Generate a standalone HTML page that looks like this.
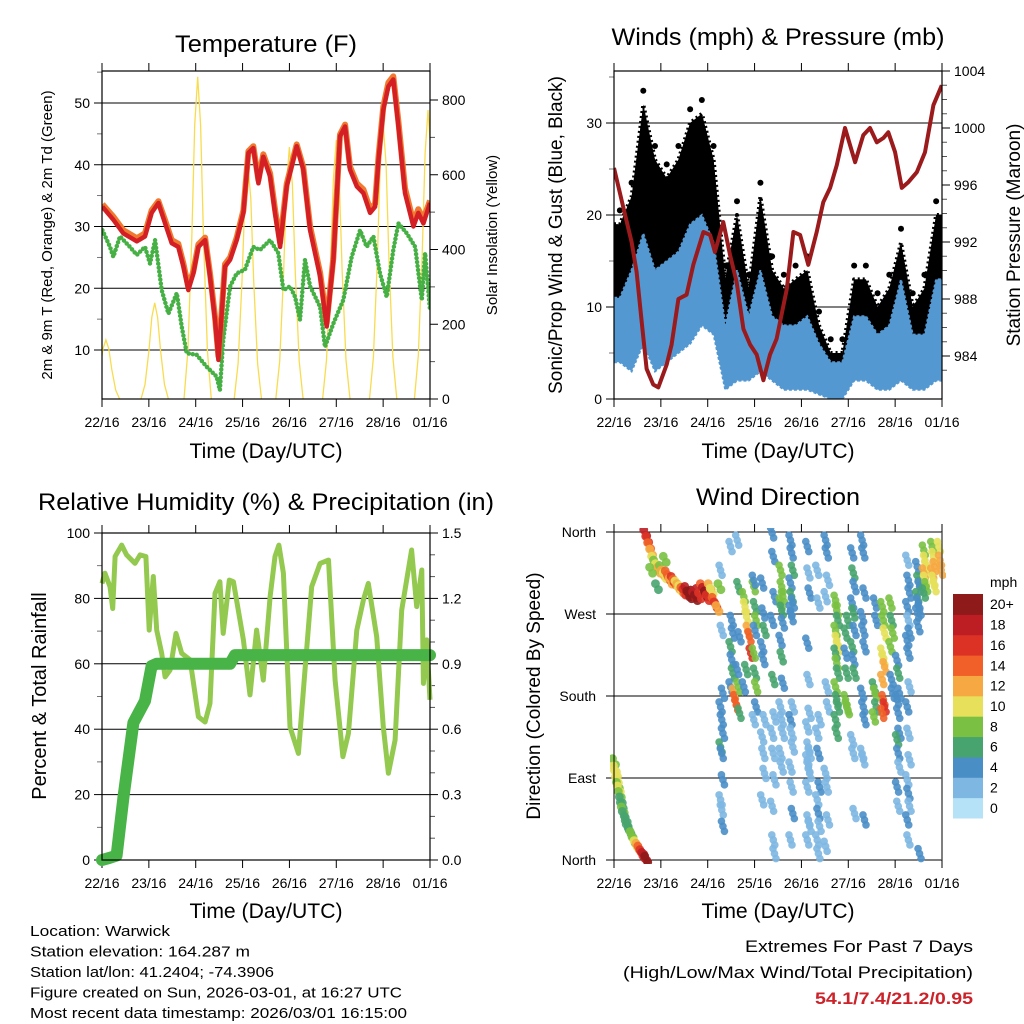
<!DOCTYPE html>
<html><head><meta charset="utf-8">
<style>
html,body{margin:0;padding:0;background:#fff;}
svg{display:block;font-family:"Liberation Sans",sans-serif;}
</style></head>
<body>
<svg id="fig" width="1024" height="1024" viewBox="0 0 1024 1024" xmlns="http://www.w3.org/2000/svg">
<rect width="1024" height="1024" fill="#fff"/>
</svg>
<script>
// ---------- DATA ----------
const dayTickLabels = ["22/16","23/16","24/16","25/16","26/16","27/16","28/16","01/16"];
const tempHours = [0.2,5.8,10.9,17.8,22.0,25.4,28.9,32.3,35.7,39.1,41.7,44.2,46.8,49.4,52.8,55.3,57.9,59.6,61.3,63.0,65.6,69.0,72.4,75.0,77.5,80.1,82.6,86.1,88.6,91.2,94.6,99.7,103.1,106.6,111.7,115.1,118.5,121.9,124.5,127.0,130.5,133.9,137.3,139.9,141.6,144.1,146.7,149.2,151.8,155.2,159.5,162.0,164.6,168.0];
const temp2m = [33.2,31.1,28.9,27.6,28.4,32.2,33.8,30.5,27.3,26.7,23.5,19.7,22.4,26.7,27.8,21.9,14.9,8.4,15.9,23.5,24.6,27.8,32.2,41.9,42.7,37.0,41.3,38.1,32.2,26.7,36.5,43.0,39.2,29.4,21.9,13.8,24.6,44.6,46.2,39.2,36.5,35.4,32.2,33.2,40.8,48.9,52.7,53.8,46.2,35.4,30.0,32.2,30.5,33.8];
const temp9m = [33.6,31.6,29.4,28.1,28.9,32.6,34.1,31.0,27.8,27.2,24.0,20.2,22.8,27.1,28.2,22.4,15.4,9.0,16.3,23.9,25.0,28.2,32.6,42.2,43.0,37.5,41.7,38.6,32.8,27.4,36.9,43.3,39.6,30.0,22.5,14.4,25.0,44.9,46.5,39.7,37.0,36.0,32.8,33.7,41.3,49.4,53.3,54.3,47.0,36.2,30.7,32.8,31.2,34.2];
const dewHours = [0.2,4.1,5.8,9.2,14.3,17.8,22.0,24.6,27.2,30.6,34.0,38.3,40.8,43.4,48.5,53.6,58.7,60.4,62.1,65.6,69.0,73.2,77.5,80.9,86.1,90.3,92.9,96.3,98.9,101.4,104.0,106.6,111.7,114.2,118.5,123.6,127.9,132.2,135.6,139.0,142.4,145.8,149.2,151.8,156.1,160.4,163.8,165.5,168.0];
const dewPoint = [29.4,26.7,25.1,28.4,26.7,25.4,26.7,24.0,27.8,19.7,15.9,19.2,13.8,9.5,9.2,7.3,5.7,3.5,11.6,20.3,22.4,23.0,26.7,26.2,27.8,25.7,19.7,20.3,18.6,14.9,24.6,20.3,17.0,10.5,14.3,18.1,25.1,29.4,26.7,28.4,22.4,18.6,26.2,30.5,28.9,26.7,18.1,25.7,16.5];
const solarPeakHours = [2,27,49,74.7,96,120,144,167];
const solarPeaks = [158,257,862,631,674,693,738,773];
const windBinHours = [0,6,12,18,24,30,36,42,48,54,60,66,72,78,84,90,96,102,108,114,120,126,132,138,144,150,156,162];
const gustLo = [8,8,12,9,8,12,12,14,12,5,6,5,6,4,3,3,3,2,1,1,4,4,3,3,6,3,3,6];
const gustHi = [19,22,32,26,24,26,30,31,26,13,20,12,22,14,12,13,14,8,5,5,13,13,10,12,17,10,12,20];
const windLo = [4,3,6,3,4,5,6,8,7,1,2,2,3,2,1,1,1,0.5,0,0,2,2,1,1,2,1,1,2];
const windHi = [11,14,18,14,15,16,19,20,17,8,14,9,14,9,8,8,9,6,4,4,9,9,7,8,13,7,7,13];
const presHours = [0,4.8,9.0,11.6,14.2,16.7,20.1,22.7,27.0,29.5,33.0,37.2,40.6,45.8,49.2,51.7,56.0,59.4,62.8,66.3,69.7,73.1,76.5,79.9,83.3,88.5,91.9,95.3,99.5,103.8,107.2,110.7,114.1,118.3,123.5,127.7,131.1,134.6,138.0,140.5,144.0,147.4,150.8,155.1,159.3,163.6,167.9];
const pressure = [997.2,994.4,992.0,989.9,986.4,983.1,982.0,981.8,983.4,984.8,988.0,988.3,990.4,992.7,992.5,991.3,993.4,991.1,989.2,985.9,984.8,984.1,982.3,984.1,985.2,988.7,992.7,992.5,990.4,992.7,994.8,995.8,997.4,1000.0,997.6,999.5,1000.0,999.0,999.3,999.7,998.3,995.8,996.2,996.9,998.3,1001.6,1003.0];
const rhHours = [0,1.5,4.1,5.5,6.7,10.1,12.6,16.9,19.5,22.5,24.2,26.3,28.0,30.6,32.3,34.9,37.9,40.8,45.1,49.4,52.8,55.3,57.9,60.4,62.1,65.2,67.3,72.4,75.8,79.2,82.6,86.1,88.6,90.6,92.9,96.3,100.6,104.0,107.4,111.7,116.0,119.4,123.4,126.2,130.5,133.9,136.4,140.7,144.1,146.7,150.1,153.5,158.6,161.2,163.8,164.6,166.3,168];
const rh = [84.6,87.7,83.6,76.9,92.8,96.3,93.3,90.7,93.3,92.8,70.3,86.7,70.3,63.2,56,58.1,69.3,63.2,61.2,43.8,42.2,47.9,81.5,85.1,69.3,85.6,85.1,67.3,50.5,70.3,55,80.5,92.8,96.3,87.7,40.7,32.6,58.1,83.6,90.7,91.7,55,31.6,38.7,70.3,79.5,84.6,68.3,40.7,26.5,36.7,76.4,94.8,77.5,88.7,54,67.3,49];
const precipHours = [0,4,7.5,11,16.1,22,25.4,28,65.6,68.1,168];
const precip = [0,0.01,0.02,0.29,0.63,0.73,0.89,0.9,0.9,0.94,0.94];
const dirHours = [0,0.5,1,1.5,2,2.5,3,3.5,4,4.5,5,6,6.5,7,8,9,10,11,12,13,14,15,16,16.5,
16,17,18,19,20,21,22,23,24,25,26,27,28,29,30,31,32,33,34,35,36,37,38,39,40,41,42,43,44,45,46,47,48,49,50,51,52,53,54,19,22,26];
const dirDeg = [108,100,95,88,82,78,72,66,60,55,50,45,40,36,32,28,22,18,15,12,8,5,3,1,
359,352,345,338,330,326,322,318,320,315,312,314,310,306,308,305,303,300,298,296,294,297,292,290,293,291,288,295,290,300,296,292,288,300,295,285,280,276,300,318,300,330];
const dirSpd = [8,10,9,10,8,9,7,6,6,7,6,5,6,5,6,7,8,10,12,14,16,18,18,20,
18,16,14,12,10,8,9,11,7,12,10,13,14,12,15,13,10,12,9,14,16,18,19,20,21,18,20,17,16,14,18,19,16,12,10,14,16,12,8,8,6,8];
const colHours = [55.2,60.3,62,63.7,67.1,68.5,70,72.2,76.5,81.6,85.9,91.0,99.6,104.7,109.0,114.1,119.2,122.6,127.7,133.7,138.0,142.2,145.6,150.8,155.9,159.3,163.6,167];
const colDeg = [
[318,252,183,168,154,139,124,117,88,66,55,37],
[344,263,249,234,220,205,190],
[183,176,170],
[351,300,245,209,190,161],
[289,278,209,190],
[267,252],
[245,227],
[300,278,263,227,205,190,307,252,168,154],
[304,271,252,234,220,154,135,117,95,66],
[359,333,289,263,198,157,139,117,88,59,22,7],
[318,300,289,282,274,260,241,223,194,168,154,139,117,102],
[351,337,318,304,289,282,274,267,168,154,139,124,102,80,51,22],
[344,315,293,238,198,161,146,124,117,110,102,95,80,44,37,22],
[318,282,154,139,117,80,66,51,37,22,7],
[351,337,307,289,190,168,95,80,44,15],
[285,274,263,252,241,234,227,216,205,190,176,168,154,139],
[176,168,165,227,205,263,249],
[337,315,300,282,271,252,234,220,205,132,117,51],
[351,337,293,267,252,234,183,168,154,117,110,44],
[190,183,168,157,282,263],
[278,263,249,227,220,212,198,176,168,161],
[282,263,249,234,198,183],
[219,205,183,176,161,139,132,117,102,80,59],
[329,307,293,278,263,249,241,227,190,168,139,110,88,73,59,44,22],
[322,307,300,289,282,274,271,256,7],
[340,329,322,315,307,300,293],
[344,333,322,315,307,300],
[344,329,318]];
const colSpd = [
[1,1,3,3,4,4,5,4,3,2,2,3],
[2,4,4,5,4,5,3],
[12,13,14],
[2,6,4,4,7,6],
[7,9,5,4],
[10,11],
[13,15],
[7,6,7,8,6,7,4,4,3,2],
[3,4,5,4,3,2,2,1,2,1],
[4,3,4,3,5,2,2,1,1,1,2,1],
[7,8,7,8,6,4,4,5,3,2,2,2,2,2],
[4,3,5,4,5,4,3,4,2,3,2,2,1,2,3,2],
[3,2,4,3,2,1,2,1,1,1,2,1,2,2,1,2],
[2,2,1,2,3,4,2,3,1,2,1],
[3,3,2,1,2,2,1,2,1,2],
[7,8,6,7,10,9,6,7,6,7,6,6,5,5],
[8,8,7,4,5,5,5],
[4,5,4,3,5,4,6,4,5,2,1,2],
[3,4,4,3,4,3,4,3,4,2,2,3],
[6,7,6,8,4,4],
[8,7,9,10,10,11,12,14,15,13],
[7,6,8,7,4,4],
[4,5,3,4,3,4,5,3,2,3,2],
[2,3,4,3,2,4,3,4,2,3,2,1,2,3,2,4,2],
[4,5,4,5,4,3,4,3,4],
[7,9,10,11,9,7,6],
[8,10,12,11,10,9],
[9,12,11]];
const cbLabels = ["0","2","4","6","8","10","12","14","16","18","20+"];
const cbColors = ["#b5e2f7","#7db7e2","#4a8ec6","#48a46e","#7ac143","#e6e05a","#f6a843","#f06028","#dc3226","#bd1e24","#8e1a1a"];

// ---------- HELPERS ----------
const NS="http://www.w3.org/2000/svg";
const svg=document.getElementById('fig');
function mk(tag,attrs,parent){const e=document.createElementNS(NS,tag);for(const k in attrs)e.setAttribute(k,attrs[k]);(parent||svg).appendChild(e);return e;}
function txt(s,x,y,size,anchor,parent,extra){const t=mk('text',Object.assign({x:x,y:y,'font-size':size,'text-anchor':anchor||'middle',fill:'#000'},extra||{}),parent);t.textContent=s;return t;}
function lin(d0,d1,r0,r1){return v=>r0+(v-d0)*(r1-r0)/(d1-d0);}
function pathOf(xs,ys,fx,fy){return xs.map((v,i)=>(i?'L':'M')+fx(v).toFixed(1)+','+fy(ys[i]).toFixed(1)).join('');}
function bandOf(xs,lo,hi,fx,fy){const up=xs.map((v,i)=>(i?'L':'M')+fx(v).toFixed(1)+','+fy(hi[i]).toFixed(1)).join('');
  let dn='';for(let i=xs.length-1;i>=0;i--)dn+='L'+fx(xs[i]).toFixed(1)+','+fy(lo[i]).toFixed(1);return up+dn+'Z';}

function panelFrame(g,x0,x1,y0,y1,fx,leftTicks,fyL,gridOn,minorL){
  leftTicks.forEach(v=>{const y=fyL(v);
    if(gridOn && y>y0+1 && y<y1-1){const l=mk('line',{x1:x0,x2:x1,y1:y,y2:y,stroke:'#000','stroke-width':1},g);
      }
    mk('line',{x1:x0-8,x2:x0,y1:y,y2:y,stroke:'#000','stroke-width':1},g);});
  (minorL||[]).forEach(v=>{const y=fyL(v);mk('line',{x1:x0-5,x2:x0,y1:y,y2:y,stroke:'#555','stroke-width':0.8},g);});
  for(let d=0;d<=7;d++){const x=fx(d*24);
    mk('line',{x1:x,x2:x,y1:y0-8,y2:y0,stroke:'#000','stroke-width':1},g);
    mk('line',{x1:x,x2:x,y1:y1,y2:y1+8,stroke:'#000','stroke-width':1},g);
    const t=txt(dayTickLabels[d],x,y1+28,14,'middle',g);
    }
}
function frameBox(g,x0,x1,y0,y1){const r=mk('rect',{x:x0,y:y0,width:x1-x0,height:y1-y0,fill:'none',stroke:'#000','stroke-width':1.2},g);
  }
function xTitle(g,x,y){const t=txt('Time (Day/UTC)',x,y,21,'middle',g,{textLength:153,lengthAdjust:'spacingAndGlyphs'});}

// ---------- PANEL 1: TEMPERATURE ----------
(function(){
  const g=mk('g',{});
  const x0=102,x1=430,y0=71,y1=399;
  const fx=lin(0,168,x0,x1), fy=lin(10,50,350,103), fs=lin(0,800,399,100);
  const clip=mk('clipPath',{id:'c1'},g);mk('rect',{x:x0,y:y0,width:x1-x0,height:y1-y0},clip);
  panelFrame(g,x0,x1,y0,y1,fx,[10,20,30,40,50],fy,true,[15,25,35,45,55]);
  [10,20,30,40,50].forEach(v=>{const t=txt(String(v),x0-12,fy(v)+5,14,'end',g);});
  [0,200,400,600,800].forEach(v=>{const y=fs(v);mk('line',{x1:x1,x2:x1+8,y1:y,y2:y,stroke:'#000'},g);
    const t=txt(String(v),x1+12,y+5,14,'start',g);});
  [100,300,500,700].forEach(v=>{const y=fs(v);mk('line',{x1:x1,x2:x1+5,y1:y,y2:y,stroke:'#555'},g);});
  const pg=mk('g',{'clip-path':'url(#c1)'},g);
  const shapeOff=[-7,-5,-3,-1.5,0,1.5,3,5,7], shapeFrac=[0,0.15,0.5,0.85,1,0.85,0.5,0.15,0];
  solarPeakHours.forEach((h,i)=>{const xs=shapeOff.map(o=>h+o), ys=shapeFrac.map(f=>f*solarPeaks[i]);
    const p=mk('path',{d:pathOf(xs,ys,fx,fs),fill:'none',stroke:'#f8dc50','stroke-width':1.3},pg);
    });
  const dp=mk('path',{d:pathOf(dewHours,dewPoint,fx,fy),fill:'none',stroke:'#46b045','stroke-width':4.5,'stroke-linecap':'round','stroke-linejoin':'round','stroke-dasharray':'0 4'},pg);
  
  const o=mk('path',{d:pathOf(tempHours,temp9m,fx,fy),fill:'none',stroke:'#f07a30','stroke-width':6,'stroke-linejoin':'round'},pg);
  
  const r=mk('path',{d:pathOf(tempHours,temp2m,fx,fy),fill:'none',stroke:'#d42024','stroke-width':4.5,'stroke-linejoin':'round'},pg);
  
  frameBox(g,x0,x1,y0,y1);
  let t=txt('Temperature (F)',266,52,24,'middle',g,{textLength:182,lengthAdjust:'spacingAndGlyphs'});
  xTitle(g,266,458);
  t=txt('2m & 9m T (Red, Orange) & 2m Td (Green)',0,0,15,'middle',g,{transform:'translate(52,235) rotate(-90)'});
  t=txt('Solar Insolation (Yellow)',0,0,15,'middle',g,{transform:'translate(497,235) rotate(-90)'});
})();

// ---------- PANEL 2: WINDS ----------
(function(){
  const g=mk('g',{});
  const x0=614,x1=942,y0=71,y1=399;
  const fx=lin(0,168,x0,x1), fy=lin(0,30,399,123), fp=lin(984,1000,356,128);
  const clip=mk('clipPath',{id:'c2'},g);mk('rect',{x:x0,y:y0,width:x1-x0,height:y1-y0},clip);
  panelFrame(g,x0,x1,y0,y1,fx,[0,10,20,30],fy,true,[5,15,25,35]);
  [0,10,20,30].forEach(v=>{const t=txt(String(v),x0-12,fy(v)+5,14,'end',g);});
  [984,988,992,996,1000,1004].forEach(v=>{const y=fp(v);mk('line',{x1:x1,x2:x1+8,y1:y,y2:y,stroke:'#000'},g);
    const t=txt(String(v),x1+12,y+5,14,'start',g);});
  for(let v=983;v<1004;v++){if(v%4){const y=fp(v);mk('line',{x1:x1,x2:x1+5,y1:y,y2:y,stroke:'#555'},g);}}
  const pg=mk('g',{'clip-path':'url(#c2)'},g);
  const centers=windBinHours.map(h=>h+3);
  const xs=[0].concat(centers,[168]);
  const ext=a=>[a[0]].concat(a,[a[a.length-1]]);
  const gb=mk('path',{d:bandOf(xs,ext(gustLo),ext(gustHi),fx,fy),fill:'#000',stroke:'#000','stroke-width':4,'stroke-linejoin':'round','stroke-dasharray':'2 3'},pg);
  
  const gb2=mk('path',{d:bandOf(xs,ext(gustLo),ext(gustHi),fx,fy),fill:'#000'},pg);
  
  windBinHours.forEach((h,i)=>{
    const c=mk('circle',{cx:fx(h+3),cy:fy(gustHi[i]+1.5),r:3,fill:'#000'},pg);
    });
  const wb=mk('path',{d:bandOf(xs,ext(windLo),ext(windHi),fx,fy),fill:'#5498d2',stroke:'#5498d2','stroke-width':2,'stroke-dasharray':'3 2'},pg);
  
  const p=mk('path',{d:pathOf(presHours,pressure,fx,fp),fill:'none',stroke:'#9b1a1c','stroke-width':4,'stroke-linejoin':'round'},pg);
  
  frameBox(g,x0,x1,y0,y1);
  let t=txt('Winds (mph) & Pressure (mb)',778,45,24,'middle',g,{textLength:333,lengthAdjust:'spacingAndGlyphs'});
  xTitle(g,778,458);
  t=txt('Sonic/Prop Wind & Gust (Blue, Black)',0,0,19,'middle',g,{transform:'translate(562,235) rotate(-90)'});
  t=txt('Station Pressure (Maroon)',0,0,19,'middle',g,{transform:'translate(1020,235) rotate(-90)'});
})();

// ---------- PANEL 3: RH ----------
(function(){
  const g=mk('g',{});
  const x0=102,x1=430,y0=533,y1=860;
  const fx=lin(0,168,x0,x1), fy=lin(0,100,860,533), fpr=lin(0,1.5,860,533);
  const clip=mk('clipPath',{id:'c3'},g);mk('rect',{x:x0-8,y:y0,width:x1-x0+16,height:y1-y0+8},clip);
  panelFrame(g,x0,x1,y0,y1,fx,[0,20,40,60,80,100],fy,true,[10,30,50,70,90]);
  [0,20,40,60,80,100].forEach(v=>{const t=txt(String(v),x0-12,fy(v)+5,14,'end',g);});
  ["0.0","0.3","0.6","0.9","1.2","1.5"].forEach((s,i)=>{const y=fpr(i*0.3);mk('line',{x1:x1,x2:x1+8,y1:y,y2:y,stroke:'#000'},g);
    const t=txt(s,x1+12,y+5,14,'start',g);});
  [0.1,0.2,0.4,0.5,0.7,0.8,1.0,1.1,1.3,1.4].forEach(v=>{const y=fpr(v);mk('line',{x1:x1,x2:x1+5,y1:y,y2:y,stroke:'#555'},g);});
  const pg=mk('g',{'clip-path':'url(#c3)'},g);
  const r=mk('path',{d:pathOf(rhHours,rh,fx,fy),fill:'none',stroke:'#93c94f','stroke-width':5,'stroke-linejoin':'round'},pg);
  
  const p=mk('path',{d:pathOf(precipHours,precip,fx,fpr),fill:'none',stroke:'#48b447','stroke-width':12,'stroke-linejoin':'round','stroke-linecap':'round'},pg);
  
  frameBox(g,x0,x1,y0,y1);
  let t=txt('Relative Humidity (%) & Precipitation (in)',266,510,24,'middle',g,{textLength:456,lengthAdjust:'spacingAndGlyphs'});
  xTitle(g,266,918);
  t=txt('Percent & Total Rainfall',0,0,20,'middle',g,{transform:'translate(46,696) rotate(-90)'});
})();

// ---------- PANEL 4: WIND DIRECTION ----------
(function(){
  const g=mk('g',{});
  const x0=614,x1=942,y0=532,y1=860;
  const fx=lin(0,168,x0,x1), fy=lin(0,360,860,532);
  const clip=mk('clipPath',{id:'c4'},g);mk('rect',{x:x0-4,y:y0-4,width:x1-x0+8,height:y1-y0+8},clip);
  panelFrame(g,x0,x1,y0,y1,fx,[0,90,180,270,360],fy,true,[]);
  ["North","East","South","West","North"].forEach((s,i)=>{const t=txt(s,x0-18,fy(i*90)+5,14,'end',g);});
  mk('line',{x1:x0,x2:x1,y1:y0,y2:y0,stroke:'#000'},g);mk('line',{x1:x0,x2:x1,y1:y1,y2:y1,stroke:'#000'},g);
  const pg=mk('g',{'clip-path':'url(#c4)'},g);
  function col(s){return cbColors[Math.max(0,Math.min(10,Math.round(s/2)))];}
  colHours.forEach((h,ci)=>{colDeg[ci].forEach((d,j)=>{
    [-5,0,5].forEach(k=>{
      const c=mk('circle',{cx:fx(h+(j%3-1)*0.6)+k*0.3,cy:fy(d)+k,r:3.8,fill:col(colSpd[ci][j]),'fill-opacity':0.9},pg);
      });});});
  dirHours.forEach((h,i)=>{
    [-3,3].forEach(k=>{
      const c=mk('circle',{cx:fx(h)+k*0.5,cy:fy(dirDeg[i])+k,r:4.4,fill:col(dirSpd[i]),'fill-opacity':0.9},pg);
      });});
  mk('line',{x1:x0,x2:x0,y1:y0,y2:y1,stroke:'#000'},g);mk('line',{x1:x1,x2:x1,y1:y0,y2:y1,stroke:'#555','stroke-width':1.5},g);
  const cb=mk('g',{},g);
  const cbTop=594,cbH=224/11;
  cbLabels.forEach((s,i)=>{const y=cbTop+(10-i)*cbH;
    mk('rect',{x:953,y:y,width:30,height:cbH+0.5,fill:cbColors[i]},cb);
    const t=txt(s,990,y+cbH/2+5,14,'start',cb);});
  let t=txt('mph',990,587,14,'start',cb);
  t=txt('Wind Direction',778,505,24,'middle',g,{textLength:164,lengthAdjust:'spacingAndGlyphs'});
  xTitle(g,778,918);
  t=txt('Direction (Colored By Speed)',0,0,19,'middle',g,{transform:'translate(540,696) rotate(-90)'});
})();

// ---------- FOOTER ----------
(function(){
  const g=mk('g',{});
  const lines=[["Location: Warwick",140],["Station elevation: 164.287 m",220],["Station lat/lon: 41.2404; -74.3906",244],["Figure created on Sun, 2026-03-01, at 16:27 UTC",372],["Most recent data timestamp: 2026/03/01 16:15:00",377]];
  lines.forEach((l,i)=>{const t=txt(l[0],30,936+i*20.5,15,'start',g,{textLength:l[1],lengthAdjust:'spacingAndGlyphs'});
    });
  let t=txt('Extremes For Past 7 Days',973,952,17,'end',g,{textLength:228,lengthAdjust:'spacingAndGlyphs'});
  t=txt('(High/Low/Max Wind/Total Precipitation)',973,978,17,'end',g,{textLength:350,lengthAdjust:'spacingAndGlyphs'});
  t=txt('54.1/7.4/21.2/0.95',973,1004,17,'end',g,{fill:'#cc2229','font-weight':'bold',textLength:158,lengthAdjust:'spacingAndGlyphs'});
})();
</script>
</body></html>
